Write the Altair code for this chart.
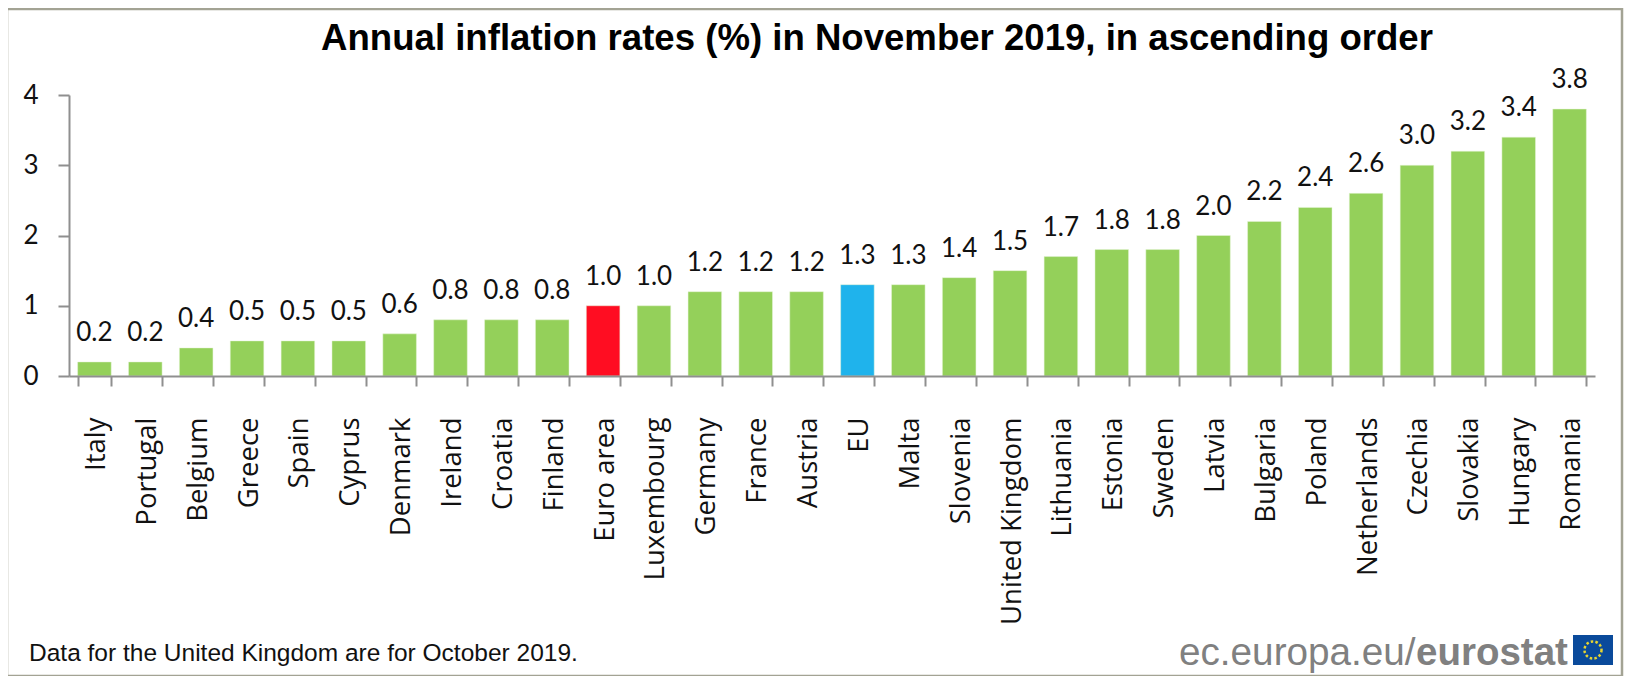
import altair as alt
import pandas as pd

countries = ["Italy", "Portugal", "Belgium", "Greece", "Spain", "Cyprus", "Denmark", "Ireland", "Croatia", "Finland",
             "Euro area", "Luxembourg", "Germany", "France", "Austria", "EU", "Malta", "Slovenia", "United Kingdom",
             "Lithuania", "Estonia", "Sweden", "Latvia", "Bulgaria", "Poland", "Netherlands", "Czechia", "Slovakia",
             "Hungary", "Romania"]
rates = [0.2, 0.2, 0.4, 0.5, 0.5, 0.5, 0.6, 0.8, 0.8, 0.8, 1.0, 1.0, 1.2, 1.2, 1.2, 1.3, 1.3, 1.4, 1.5, 1.7, 1.8, 1.8,
         2.0, 2.2, 2.4, 2.6, 3.0, 3.2, 3.4, 3.8]
groups = ["Euro area" if c == "Euro area" else "EU" if c == "EU" else "Country" for c in countries]

df = pd.DataFrame({"country": countries, "rate": rates, "group": groups})
AXIS = "#8f8f8f"
FONT = "Lato"
one = pd.DataFrame({"a": [0]})

x = alt.X("country:N", sort=countries, title=None,
          scale=alt.Scale(paddingInner=0.34, paddingOuter=0.17),
          axis=alt.Axis(labelAngle=270, labelFont="Open Sans", labelFontSize=27.5, labelColor="#111111", labelPadding=31,
                        labelAlign="right", labelBaseline="middle", labelOffset=2, tickBand="extent", tickSize=10,
                        tickWidth=2, tickColor=AXIS, domainColor=AXIS, domainWidth=2, labelOverlap=False,
                        labelLimit=400, zindex=1))
y = alt.Y("rate:Q", title=None, scale=alt.Scale(domain=[0, 4], nice=False),
          axis=alt.Axis(values=[0, 1, 2, 3, 4], format="d", grid=False, labelFont=FONT, labelFontSize=26,
                        labelColor="#111111", labelPadding=20, tickSize=11, tickWidth=2, tickColor=AXIS,
                        domainColor=AXIS, domainWidth=2, zindex=1))

frame = alt.Chart(one).mark_rect(filled=False, stroke="#a3a394", strokeWidth=2.5).encode(
    x=alt.value(-62), x2=alt.value(1553), y=alt.value(-86), y2=alt.value(581))

bars = alt.Chart(df).mark_bar(stroke="#e6f4d8", strokeWidth=0.5).encode(
    x=x, y=y,
    color=alt.Color("group:N", legend=None,
                    scale=alt.Scale(domain=["Country", "Euro area", "EU"], range=["#94D05A", "#FF0D22", "#1FB3EC"])))

labels = alt.Chart(df).mark_text(font=FONT, fontSize=26, color="#111111", baseline="alphabetic", dy=-21).encode(
    x=alt.X("country:N", sort=countries), y=alt.Y("rate:Q"), text=alt.Text("rate:Q", format=".1f"))


def note(text, px, py, align="left", **kw):
    return alt.Chart(pd.DataFrame({"t": [text]})).mark_text(baseline="alphabetic", align=align, **kw).encode(
        x=alt.value(px), y=alt.value(py), text="t:N")


title = note("Annual inflation rates (%) in November 2019, in ascending order", 808, -45, align="center",
             font="Liberation Sans", fontSize=36.6, fontWeight="bold", color="#000000")
footnote = note("Data for the United Kingdom are for October 2019.", -40, 566,
                font="Liberation Sans", fontSize=24.5, color="#111111")
logo1 = note("ec.europa.eu/", 1110, 570, font="Liberation Sans", fontSize=38.7, color="#808080")
logo2 = note("eurostat", 1347, 570, font="Liberation Sans", fontSize=38.5, fontWeight="bold", color="#808080")
flag = alt.Chart(one).mark_rect(fill="#0A4A9B").encode(
    x=alt.value(1504), x2=alt.value(1544), y=alt.value(540), y2=alt.value(570))
stars = alt.Chart(one).mark_point(shape="circle", filled=False, stroke="#E8D530", strokeWidth=2.5, size=290,
                                  strokeDash=[2.5, 2.2], opacity=1).encode(x=alt.value(1524), y=alt.value(555))

chart = alt.layer(frame, bars, labels, title, footnote, logo1, logo2, flag, stars).resolve_scale(
    x="shared", y="shared"
).properties(
    width=1526, height=281,
    background="white",
    padding={"left": 61, "top": 87, "right": 29, "bottom": 300},
    autosize=alt.AutoSizeParams(type="none"),
).configure_view(stroke=None)

chart.save("out.html", embed_options={"renderer": "svg", "actions": False})
